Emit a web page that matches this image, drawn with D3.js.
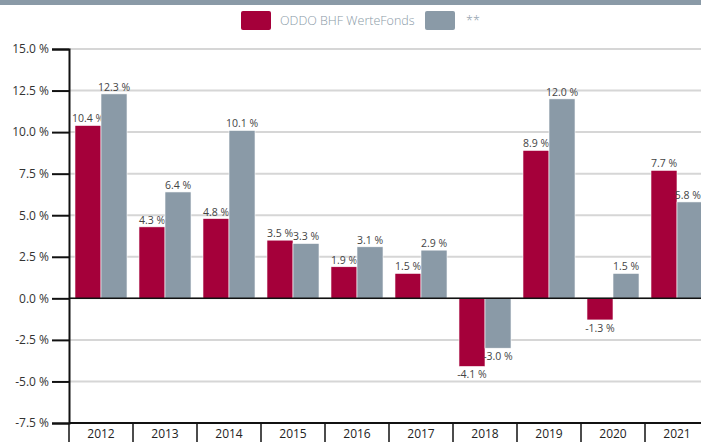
<!DOCTYPE html>
<html><head><meta charset="utf-8">
<script src="https://cdn.jsdelivr.net/npm/d3@7"></script>
<style>html,body{margin:0;padding:0;background:#fff;overflow:hidden}</style>
</head><body>
<svg id="c" width="701" height="442"></svg>
<script>
const years = ["2012","2013","2014","2015","2016","2017","2018","2019","2020","2021"];
const fundValues = [10.4, 4.3, 4.8, 3.5, 1.9, 1.5, -4.1, 8.9, -1.3, 7.7];
const benchValues = [12.3, 6.4, 10.1, 3.3, 3.1, 2.9, -3.0, 12.0, 1.5, 5.8];
const seriesNames = ["ODDO BHF WerteFonds", "**"];
const yTicks = [-7.5, -5.0, -2.5, 0.0, 2.5, 5.0, 7.5, 10.0, 12.5, 15.0];

const colors = ["#a5003a", "#8a9aa7"];
const svg = d3.select("#c");
const font = "'Open Sans', 'Noto Sans', sans-serif";
const W = 701;

// top band
svg.append("rect").attr("x",0).attr("y",0).attr("width",W).attr("height",5).attr("fill","#8a9aa7");

const pLeft = 69, pRight = 709, pTop = 49, pBottom = 423;
const y = d3.scaleLinear().domain([-7.5, 15]).range([pBottom, pTop]);
const x = d3.scaleBand().domain(years).range([pLeft, pRight]).paddingInner(0).paddingOuter(0);
const xs = d3.scaleBand().domain([0,1]).range([0, x.bandwidth()]).paddingInner(0).paddingOuter(0.23);

// grid
svg.append("g").selectAll("line").data(yTicks).join("line")
  .attr("x1", pLeft).attr("x2", pRight).attr("y1", d=>y(d)).attr("y2", d=>y(d))
  .attr("stroke", "#d6d6d6").attr("stroke-width", 2);

// bars
const data = years.map((yr,i)=>({yr, vals:[fundValues[i], benchValues[i]]}));
const g = svg.append("g");
data.forEach(d=>{
  d.vals.forEach((v,k)=>{
    const bx = x(d.yr)+xs(k);
    g.append("rect").attr("x", bx).attr("width", xs.bandwidth())
      .attr("y", y(Math.max(0,v))).attr("height", Math.abs(y(v)-y(0)))
      .attr("fill", colors[k]).attr("stroke","#fff").attr("stroke-width",0.6);
    const label = d3.format(".1f")(v).replace("−","-") + " %";
    const t = g.append("text")
      .attr("y", v>=0 ? y(v)-3 : y(v)+12)
      .attr("text-anchor","middle").attr("font-family", font).attr("font-size", 10.5)
      .attr("fill","#444").text(label);
    let cx = bx + xs.bandwidth()/2;
    const w = t.node().getComputedTextLength();
    if (cx + w/2 > W) cx = W - w/2;
    t.attr("x", cx);
  });
});

// zero line
svg.append("line").attr("x1",pLeft).attr("x2",pRight).attr("y1",y(0)).attr("y2",y(0))
  .attr("stroke","#111").attr("stroke-width",1.5);

// y axis
const yAxis = d3.axisLeft(y).tickValues(yTicks).tickSize(17).tickPadding(3)
  .tickFormat(d=>d3.format(".1f")(d).replace("−","-")+" %");
const ya = svg.append("g").attr("transform",`translate(${pLeft},0)`).call(yAxis);
ya.select(".domain").attr("stroke","#111").attr("stroke-width",2);
ya.selectAll(".tick line").attr("stroke","#111").attr("stroke-width",2);
ya.selectAll("text").attr("font-family",font).attr("font-size",12).attr("fill","#333");

// x axis boxes
svg.append("line").attr("x1",pLeft).attr("x2",pRight).attr("y1",pBottom).attr("y2",pBottom)
  .attr("stroke","#111").attr("stroke-width",2);
const xa = svg.append("g");
years.forEach(yr=>{
  xa.append("line").attr("x1",x(yr)).attr("x2",x(yr)).attr("y1",pBottom).attr("y2",442)
    .attr("stroke","#111").attr("stroke-width",1.5);
  xa.append("text").attr("x",x(yr)+x.bandwidth()/2).attr("y",438)
    .attr("text-anchor","middle").attr("font-family",font).attr("font-size",12)
    .attr("fill","#222").text(yr);
});

// legend
const lg = svg.append("g");
const legendItems = [{x:241, tx:280}, {x:425, tx:466}];
seriesNames.forEach((n,i)=>{
  lg.append("rect").attr("x",legendItems[i].x).attr("y",11).attr("width",30).attr("height",19)
    .attr("rx",2).attr("fill",colors[i]);
  lg.append("text").attr("x",legendItems[i].tx).attr("y",25).attr("font-family",font)
    .attr("font-size",12.5).attr("font-weight",300).attr("fill","#8a9aa7").text(n);
});
</script>
</body></html>
